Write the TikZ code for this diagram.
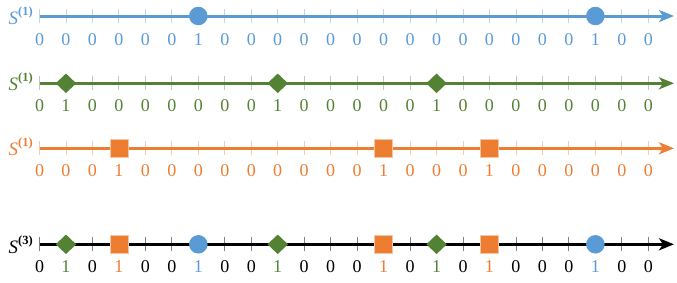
\documentclass[tikz,border=0pt]{standalone}
\usepackage{fontspec}
\setmainfont{Liberation Serif}
\usetikzlibrary{arrows.meta,shapes.geometric}
\definecolor{cblue}{HTML}{5B9BD5}
\definecolor{cgreen}{HTML}{548235}
\definecolor{corange}{HTML}{ED7D31}
\newcommand\slab[1]{\textit{S}\raisebox{0.45em}{\fontsize{12.5}{14}\selectfont\textbf{(#1)}}}
\begin{document}
\begin{tikzpicture}[x=1pt,y=-1pt,
  axis/.style={line width=3pt,-{Stealth[length=15pt,width=12pt,inset=4pt]}},
  tickmark/.style={line width=0.9pt},
  digit/.style={anchor=base,inner sep=0pt,font=\fontsize{18}{20}\selectfont},
  rowlabel/.style={anchor=base east,inner sep=0pt,font=\fontsize{19}{20}\selectfont},
  circmark/.style={circle,fill=cblue,minimum size=18.5pt,inner sep=0pt,outer sep=0pt},
  diamark/.style={diamond,fill=cgreen,minimum width=20.5pt,minimum height=19.5pt,inner sep=0pt,outer sep=0pt},
  sqmark/.style={rectangle,fill=corange,draw=corange!45,line width=0.6pt,minimum size=18pt,inner sep=0pt}]
\useasboundingbox (0,0) rectangle (677,282);
\def\xs{39.5}
\def\dx{26.47}
% ---------- row 1 (blue) ----------
\coordinate (a1) at (\xs,16);
\coordinate (a2) at (674,16);
\foreach \i in {0,...,23} \draw[tickmark,cblue!40] (\xs+\dx*\i,9) -- (\xs+\dx*\i,23);
\draw[axis,cblue] (a1) -- (a2);
\node[rowlabel,text=cblue] (la) at (33,24.5) {\slab{1}};
\node[circmark] (a6) at (\xs+\dx*6,16) {};
\node[circmark] (a21) at (\xs+\dx*21,16) {};
\foreach \v [count=\i from 0] in {0,0,0,0,0,0,1,0,0,0,0,0,0,0,0,0,0,0,0,0,0,1,0,0}
  \node[digit,text=cblue] at (\xs+\dx*\i,45) {\v};
% ---------- row 2 (green) ----------
\coordinate (b1) at (\xs,83.3);
\coordinate (b2) at (674,83.3);
\foreach \i in {0,...,23} \draw[tickmark,cgreen!40] (\xs+\dx*\i,76.3) -- (\xs+\dx*\i,90.3);
\draw[axis,cgreen] (b1) -- (b2);
\node[rowlabel,text=cgreen] (lb) at (33,90.5) {\slab{1}};
\node[diamark] (d1) at (\xs+\dx*1,83.3) {};
\node[diamark] (d9) at (\xs+\dx*9,83.3) {};
\node[diamark] (d15) at (\xs+\dx*15,83.3) {};
\foreach \v [count=\i from 0] in {0,1,0,0,0,0,0,0,0,1,0,0,0,0,0,1,0,0,0,0,0,0,0,0}
  \node[digit,text=cgreen] at (\xs+\dx*\i,111.7) {\v};
% ---------- row 3 (orange) ----------
\coordinate (c1) at (\xs,148.3);
\coordinate (c2) at (674,148.3);
\foreach \i in {0,...,23} \draw[tickmark,corange!40] (\xs+\dx*\i,141.3) -- (\xs+\dx*\i,155.3);
\draw[axis,corange] (c1) -- (c2);
\node[rowlabel,text=corange] (lc) at (33,155.5) {\slab{1}};
\node[sqmark] (s3) at (\xs+\dx*3,148.3) {};
\node[sqmark] (s13) at (\xs+\dx*13,148.3) {};
\node[sqmark] (s17) at (\xs+\dx*17,148.3) {};
\foreach \v [count=\i from 0] in {0,0,0,1,0,0,0,0,0,0,0,0,0,1,0,0,0,1,0,0,0,0,0,0}
  \node[digit,text=corange] at (\xs+\dx*\i,176.7) {\v};
% ---------- row 4 (combined) ----------
\coordinate (e1) at (\xs,244.3);
\coordinate (e2) at (674,244.3);
\foreach \i in {0,...,23} \draw[tickmark,black!50] (\xs+\dx*\i,237.3) -- (\xs+\dx*\i,251.3);
\draw[axis,black] (e1) -- (e2);
\node[rowlabel,text=black] (le) at (33,253) {\slab{3}};
\node[diamark] (ed1) at (\xs+\dx*1,244.3) {};
\node[sqmark] (es3) at (\xs+\dx*3,244.3) {};
\node[circmark] (ec6) at (\xs+\dx*6,244.3) {};
\node[diamark] (ed9) at (\xs+\dx*9,244.3) {};
\node[sqmark] (es13) at (\xs+\dx*13,244.3) {};
\node[diamark] (ed15) at (\xs+\dx*15,244.3) {};
\node[sqmark] (es17) at (\xs+\dx*17,244.3) {};
\node[circmark] (ec21) at (\xs+\dx*21,244.3) {};
\foreach \v/\c [count=\i from 0] in {0/black,1/cgreen,0/black,1/corange,0/black,0/black,1/cblue,0/black,0/black,1/cgreen,0/black,0/black,0/black,1/corange,0/black,1/cgreen,0/black,1/corange,0/black,0/black,0/black,1/cblue,0/black,0/black}
  \node[digit,text=\c] at (\xs+\dx*\i,272.3) {\v};
\end{tikzpicture}
\end{document}
